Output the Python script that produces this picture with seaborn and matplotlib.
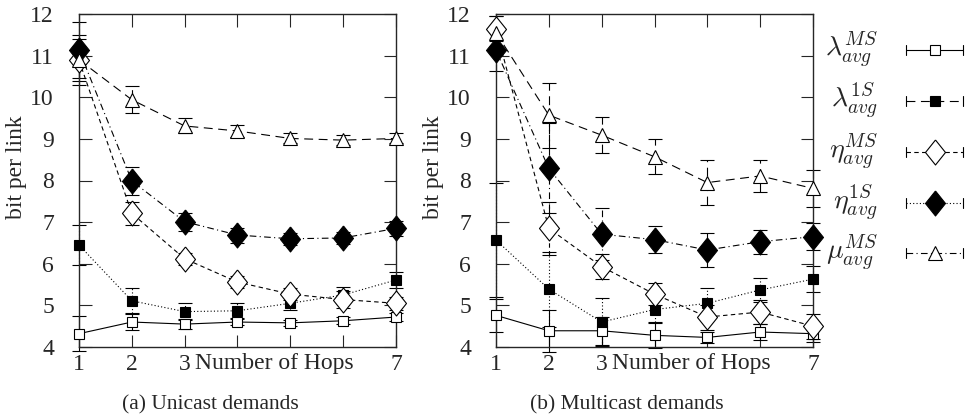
import seaborn as sns
import matplotlib.pyplot as plt

hops = [1, 2, 3, 4, 5, 6, 7]
hop_labels = ["1", "2", "3", "", "", "", "7"]
y_ticks = [4, 5, 6, 7, 8, 9, 10, 11, 12]

# (a) unicast demands
uni_lam_ms = [4.32, 4.60, 4.55, 4.60, 4.58, 4.63, 4.72]
uni_lam_ms_err = [0.42, 0.20, 0.12, 0.08, 0.08, 0.08, 0.10]
uni_lam_1s = [6.45, 5.11, 4.85, 4.87, 5.05, 5.25, 5.61]
uni_lam_1s_err = [0.48, 0.30, 0.20, 0.18, 0.15, 0.18, 0.20]
uni_eta_ms = [10.89, 7.21, 6.12, 5.56, 5.27, 5.14, 5.05]
uni_eta_ms_err = [0.60, 0.28, 0.15, 0.15, 0.15, 0.20, 0.15]
uni_eta_1s = [11.13, 7.99, 7.01, 6.69, 6.60, 6.62, 6.85]
uni_eta_1s_err = [0.67, 0.34, 0.22, 0.18, 0.15, 0.15, 0.18]
uni_mu_ms = [10.90, 9.94, 9.31, 9.19, 9.01, 8.97, 9.01]
uni_mu_ms_err = [0.50, 0.33, 0.18, 0.15, 0.12, 0.12, 0.12]

# (b) multicast demands
multi_lam_ms = [4.76, 4.39, 4.39, 4.28, 4.23, 4.36, 4.32]
multi_lam_ms_err = [0.40, 0.50, 0.33, 0.30, 0.13, 0.20, 0.20]
multi_lam_1s = [6.57, 5.39, 4.60, 4.90, 5.05, 5.37, 5.63]
multi_lam_1s_err = [1.37, 0.90, 0.57, 0.30, 0.36, 0.29, 0.32]
multi_eta_ms = [11.64, 6.85, 5.93, 5.27, 4.72, 4.84, 4.50]
multi_eta_ms_err = [0.30, 0.64, 0.30, 0.27, 0.30, 0.28, 0.30]
multi_eta_1s = [11.13, 8.29, 6.71, 6.58, 6.33, 6.53, 6.65]
multi_eta_1s_err = [0.50, 1.08, 0.62, 0.33, 0.40, 0.29, 0.33]
multi_mu_ms = [11.55, 9.57, 9.09, 8.57, 7.95, 8.11, 7.81]
multi_mu_ms_err = [0.40, 0.78, 0.43, 0.42, 0.54, 0.39, 0.45]

labels = [r"$\lambda^{MS}_{avg}$", r"$\lambda^{1S}_{avg}$", r"$\eta^{MS}_{avg}$",
          r"$\eta^{1S}_{avg}$", r"$\mu^{MS}_{avg}$"]

sns.set_style("ticks")
plt.rcParams["font.family"] = ["Liberation Serif", "DejaVu Serif"]
plt.rcParams["mathtext.fontset"] = "cm"
plt.rcParams["font.size"] = 17

diamond = [(0, 1), (0.8, 0), (0, -1), (-0.8, 0), (0, 1)]
dotted = (0, (1, 2))
short_dash = (0, (4, 3))
long_dash = (0, (8, 5))
dash_dot = (0, (6, 3, 1, 3))

# marker, size, face, line style in the plot, line style in the legend
styles = [
    ("s", 7, "white", "-", "-"),
    ("s", 7, "black", dotted, long_dash),
    (diamond, 18, "white", short_dash, short_dash),
    (diamond, 18, "black", dash_dot, dotted),
    ("^", 10, "white", long_dash, dash_dot),
]

panels = [
    ([uni_lam_ms, uni_lam_1s, uni_eta_ms, uni_eta_1s, uni_mu_ms],
     [uni_lam_ms_err, uni_lam_1s_err, uni_eta_ms_err, uni_eta_1s_err, uni_mu_ms_err],
     "(a) Unicast demands"),
    ([multi_lam_ms, multi_lam_1s, multi_eta_ms, multi_eta_1s, multi_mu_ms],
     [multi_lam_ms_err, multi_lam_1s_err, multi_eta_ms_err, multi_eta_1s_err, multi_mu_ms_err],
     "(b) Multicast demands"),
]

fig = plt.figure(figsize=(9.65, 4.18), dpi=100)
ax_left = [79 / 965, 496 / 965]

for k, (values, errors, caption) in enumerate(panels):
    ax = fig.add_axes([ax_left[k], 71 / 418, 317 / 965, 333 / 418])
    for (marker, ms, face, ls, _), y, err in zip(styles, values, errors):
        eb = ax.errorbar(hops, y, yerr=err, fmt="none", ecolor="black",
                         elinewidth=0.8, capsize=5, capthick=0.8, zorder=2)
        eb[2][0].set_linestyle(ls)
        for cap in eb[1]:
            cap.set_clip_on(False)
        eb[2][0].set_clip_on(False)
        sns.lineplot(x=hops, y=y, ax=ax, color="black", linestyle=ls, linewidth=0.8,
                     marker=marker, markersize=ms, markerfacecolor=face,
                     markeredgecolor="black", markeredgewidth=0.8,
                     errorbar=None, clip_on=False, zorder=3)
    ax.set_xlim(1, 7)
    ax.set_ylim(4, 12)
    ax.set_xticks(hops)
    ax.set_xticklabels(hop_labels)
    ax.set_yticks(y_ticks)
    ax.tick_params(direction="in", length=9, width=0.8, top=True, right=True)
    ax.tick_params(axis="y", pad=18)
    ax.tick_params(axis="x", pad=5)
    for sp in ax.spines.values():
        sp.set_linewidth(1.0)
    ax.set_ylabel("bit per link")
    ax.yaxis.set_label_coords(-0.165, 0.54)
    ax.set_xlabel("Number of Hops")
    ax.xaxis.set_label_coords(0.615, -0.018)
    fig.text((ax_left[k] * 965 + 131) / 965, 1 - 405 / 418, caption,
             ha="center", va="center", fontsize=15.5)

# legend drawn by hand, gnuplot style, on the right edge
lax = fig.add_axes([0, 0, 1, 1])
lax.set_xlim(0, 965)
lax.set_ylim(418, 0)
lax.axis("off")
leg_y = [50, 101, 152, 203, 253]
for (marker, ms, face, _, lls), label, yy in zip(styles, labels, leg_y):
    lax.text(878, yy, label, ha="right", va="center", fontsize=20)
    lax.plot([906, 963], [yy, yy], color="black", linestyle=lls, linewidth=0.8)
    lax.plot([906, 906], [yy - 5, yy + 5], color="black", linewidth=0.8)
    lax.plot([963, 963], [yy - 5, yy + 5], color="black", linewidth=0.8)
    lax.plot([934.5], [yy], color="black", marker=marker, markersize=ms,
             markerfacecolor=face, markeredgecolor="black", markeredgewidth=0.8)

fig.savefig("out.png", dpi=100)
